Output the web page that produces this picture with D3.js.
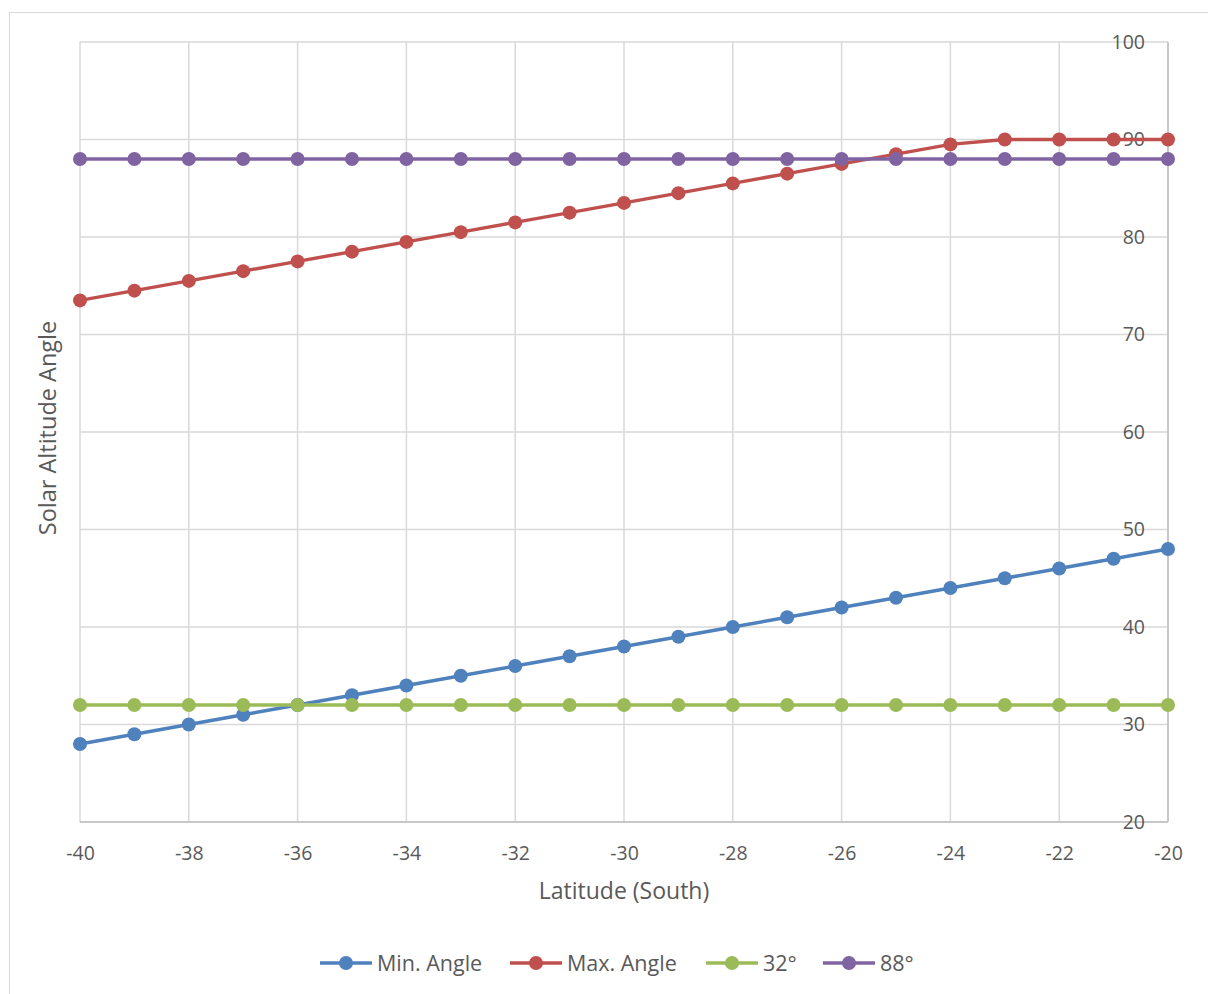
<!DOCTYPE html>
<html>
<head>
<meta charset="utf-8">
<script src="https://cdn.jsdelivr.net/npm/d3@7"></script>
<style>
  html, body { margin: 0; padding: 0; background: #fff; }
  svg { display: block; font-family: "Open Sans", "Noto Sans", sans-serif; }
</style>
</head>
<body>
<svg id="chart" width="1208" height="994"></svg>
<script>
// Latitudes (degrees south, negative)
const latitudes = d3.range(-40, -19, 1);

// Solar altitude angle series
const minAngle = [28, 29, 30, 31, 32, 33, 34, 35, 36, 37, 38, 39, 40, 41, 42, 43, 44, 45, 46, 47, 48];
const maxAngle = [73.5, 74.5, 75.5, 76.5, 77.5, 78.5, 79.5, 80.5, 81.5, 82.5, 83.5, 84.5, 85.5, 86.5, 87.5, 88.5, 89.5, 90, 90, 90, 90];
const line32 = latitudes.map(() => 32);
const line88 = latitudes.map(() => 88);

const seriesNames = ["Min. Angle", "Max. Angle", "32°", "88°"];
const seriesColors = ["#4F81BD", "#C0504D", "#9BBB59", "#8064A2"];
const seriesValues = [minAngle, maxAngle, line32, line88];

const xTicks = [-40, -38, -36, -34, -32, -30, -28, -26, -24, -22, -20];
const yTicks = [20, 30, 40, 50, 60, 70, 80, 90, 100];

const textColor = "#595959";
const fmt = d => String(d); // plain hyphen for negatives

const svg = d3.select("#chart");

// Outer chart frame
svg.append("rect")
  .attr("x", 9.5).attr("y", 12.5)
  .attr("width", 1220).attr("height", 1000)
  .attr("fill", "none").attr("stroke", "#D9D9D9").attr("stroke-width", 1);

const plot = { left: 80, right: 1168, top: 42, bottom: 822 };

const x = d3.scaleLinear().domain([-40, -20]).range([plot.left, plot.right]);
const y = d3.scaleLinear().domain([20, 100]).range([plot.bottom, plot.top]);

// Gridlines
const grid = svg.append("g").attr("stroke", "#D9D9D9").attr("stroke-width", 1.5);
grid.selectAll("line.h").data(yTicks).join("line")
  .attr("x1", plot.left).attr("x2", plot.right)
  .attr("y1", d => y(d)).attr("y2", d => y(d));
grid.selectAll("line.v").data(xTicks).join("line")
  .attr("y1", plot.top).attr("y2", plot.bottom)
  .attr("x1", d => x(d)).attr("x2", d => x(d));

// Axis lines (bottom and right)
svg.append("line")
  .attr("x1", plot.left).attr("x2", plot.right)
  .attr("y1", plot.bottom).attr("y2", plot.bottom)
  .attr("stroke", "#BFBFBF").attr("stroke-width", 1.5);
svg.append("line")
  .attr("x1", plot.right).attr("x2", plot.right)
  .attr("y1", plot.top).attr("y2", plot.bottom)
  .attr("stroke", "#BFBFBF").attr("stroke-width", 1.5);

// X axis tick labels
const xAxis = d3.axisBottom(x).tickValues(xTicks).tickSize(0).tickPadding(24).tickFormat(fmt);
const gx = svg.append("g").attr("transform", `translate(0,${plot.bottom})`).call(xAxis);
gx.select(".domain").remove();
gx.selectAll("text").attr("fill", textColor).attr("font-size", 19.5)
  .attr("font-family", "'Open Sans', sans-serif");

// Y axis tick labels (placed just inside the right edge)
const yAxis = d3.axisLeft(y).tickValues(yTicks).tickSize(0).tickPadding(23).tickFormat(fmt);
const gy = svg.append("g").attr("transform", `translate(${plot.right},0)`).call(yAxis);
gy.select(".domain").remove();
gy.selectAll("text").attr("fill", textColor).attr("font-size", 19.5)
  .attr("font-family", "'Open Sans', sans-serif");

// Axis titles
svg.append("text")
  .attr("x", 624).attr("y", 899)
  .attr("text-anchor", "middle").attr("fill", textColor).attr("font-size", 23)
  .text("Latitude (South)");
svg.append("text")
  .attr("transform", `translate(56,428) rotate(-90)`)
  .attr("text-anchor", "middle").attr("fill", textColor).attr("font-size", 23.5)
  .text("Solar Altitude Angle");

// Series lines and markers
const lineGen = d3.line().x(d => x(d[0])).y(d => y(d[1]));
seriesValues.forEach((vals, i) => {
  const pts = latitudes.map((lat, j) => [lat, vals[j]]);
  const g = svg.append("g");
  g.append("path").datum(pts)
    .attr("d", lineGen).attr("fill", "none")
    .attr("stroke", seriesColors[i]).attr("stroke-width", 3.5)
    .attr("stroke-linejoin", "round");
  g.selectAll("circle").data(pts).join("circle")
    .attr("cx", d => x(d[0])).attr("cy", d => y(d[1])).attr("r", 7)
    .attr("fill", seriesColors[i]);
});

// Legend
const legendX = [320, 510, 706, 823];
const legendY = 963;
const lg = svg.append("g");
seriesNames.forEach((name, i) => {
  const g = lg.append("g").attr("transform", `translate(${legendX[i]},${legendY})`);
  g.append("line").attr("x1", 0).attr("x2", 52).attr("y1", 0).attr("y2", 0)
    .attr("stroke", seriesColors[i]).attr("stroke-width", 3.5);
  g.append("circle").attr("cx", 26).attr("cy", 0).attr("r", 7).attr("fill", seriesColors[i]);
  g.append("text").attr("x", 57).attr("y", 0).attr("dy", "0.35em")
    .attr("fill", textColor).attr("font-size", 21.5).text(name);
});
</script>
</body>
</html>
